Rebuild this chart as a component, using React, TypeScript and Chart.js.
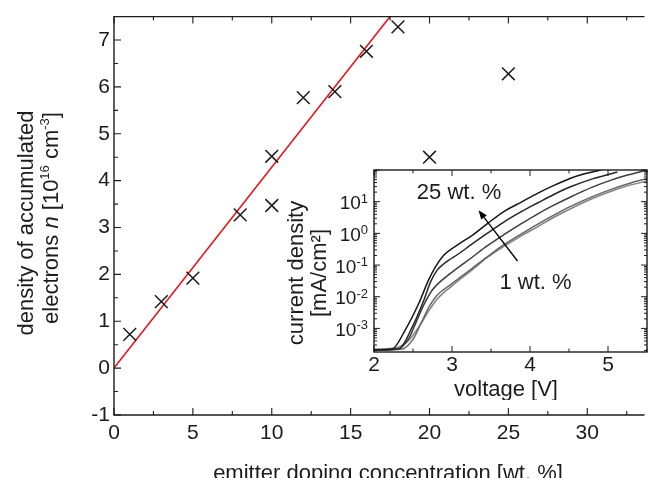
import React, { useEffect, useRef } from 'react';
import { Chart, registerables } from 'chart.js';
Chart.register(...registerables);

const FONT = "'Liberation Sans', Arial, Helvetica, sans-serif";
const INK = '#1c1c1c';

// ---------- main chart data ----------
const dopingConcentration = [1, 3, 5, 8, 10, 10, 12, 14, 16, 18, 20, 25];
const electronDensity = [0.72, 1.42, 1.92, 3.27, 4.52, 3.47, 5.77, 5.9, 6.76, 7.28, 4.5, 6.28];
const fitX = [0, 17.5];
const fitY = [0, 7.5];
const mainXMajor = [0, 5, 10, 15, 20, 25, 30];
const mainXMinor = [2.5, 7.5, 12.5, 17.5, 22.5, 27.5, 32.5];
const mainYMajor = [-1, 0, 1, 2, 3, 4, 5, 6, 7];
const mainYMinor = [-0.5, 0.5, 1.5, 2.5, 3.5, 4.5, 5.5, 6.5];

// ---------- inset data (current density in mA/cm², voltage in V) ----------
const voltage25 = [2.0, 2.23, 2.4, 2.575, 2.7, 2.79, 2.9, 3.1, 3.25, 3.45, 3.66, 3.9, 4.09, 4.3, 4.52, 4.7, 4.91];
const current25 = [2.1e-4, 2.2e-4, 8.9e-4, 6.2e-3, 3.4e-2, 8.9e-2, 0.21, 0.48, 0.83, 2.0, 4.8, 10, 18, 32, 55, 76, 100];
const voltageB = [2.0, 2.32, 2.49, 2.64, 2.725, 2.81, 2.9, 3.1, 3.25, 3.45, 3.66, 3.9, 4.09, 4.3, 4.52, 4.8, 5.12];
const currentB = [2.1e-4, 2.3e-4, 1.1e-3, 7.9e-3, 2.95e-2, 6.9e-2, 0.112, 0.24, 0.45, 1.0, 2.24, 5.0, 8.9, 16.6, 29.5, 52.5, 87];
const voltageC = [2.0, 2.3, 2.45, 2.55, 2.65, 2.75, 2.85, 2.95, 3.1, 3.25, 3.45, 3.66, 3.9, 4.09, 4.3, 4.52, 4.8, 5.04, 5.25, 5.5];
const currentC = [2.1e-4, 2.2e-4, 5.0e-4, 1.8e-3, 6.3e-3, 1.66e-2, 3.0e-2, 4.8e-2, 9.1e-2, 0.17, 0.4, 0.89, 2.1, 4.0, 7.6, 14.1, 28.8, 47.9, 69.2, 100];
const voltageD = [2.0, 2.35, 2.5, 2.6, 2.7, 2.8, 2.9, 3.0, 3.1, 3.25, 3.45, 3.66, 3.9, 4.09, 4.3, 4.52, 4.8, 5.04, 5.25, 5.5];
const currentD = [2.1e-4, 2.2e-4, 4.5e-4, 1.4e-3, 4.5e-3, 1.05e-2, 1.74e-2, 2.6e-2, 4.0e-2, 7.6e-2, 0.18, 0.43, 1.0, 1.9, 3.7, 7.1, 14.5, 24.5, 36.3, 53.7];
const voltage1 = [2.0, 2.3, 2.45, 2.6, 2.7, 2.8, 2.9, 3.0, 3.1, 3.25, 3.45, 3.66, 3.9, 4.09, 4.3, 4.52, 4.8, 5.04, 5.25, 5.5];
const current1 = [2.2e-4, 2.5e-4, 4.3e-4, 1.4e-3, 3.5e-3, 7.9e-3, 1.4e-2, 2.2e-2, 3.5e-2, 6.8e-2, 0.17, 0.38, 0.87, 1.58, 3.16, 6.0, 12.6, 21.4, 31.6, 44.7];
const curveColors = ['#151515', '#252525', '#3c3c3c', '#666666', '#828282'];

const insetXMajor = [2, 3, 4, 5];
const insetXMinor = [2.5, 3.5, 4.5, 5.5];
const insetYExponents = [1, 0, -1, -2, -3];
const insetYMin = 1.8e-4;
const insetYMax = 100;

const arrowFrom = { x: 3.84, y: 0.134 };
const arrowTo = { x: 3.34, y: 5.4 };
const labelHigh = { text: '25 wt. %', x: 3.09, y: 18.6 };
const labelLow = { text: '1 wt. %', x: 4.07, y: 0.027 };

function pts(xs: number[], ys: number[]) {
  return xs.map((x, i) => ({ x, y: ys[i] }));
}

type Run = { t: string; size: number; italic?: boolean; dy?: number };

function drawRotatedRuns(ctx: CanvasRenderingContext2D, runs: Run[], bx: number, cy: number) {
  ctx.save();
  ctx.translate(bx, cy);
  ctx.rotate(-Math.PI / 2);
  ctx.textBaseline = 'alphabetic';
  ctx.textAlign = 'left';
  let total = 0;
  const widths = runs.map((r) => {
    ctx.font = `${r.italic ? 'italic ' : ''}${r.size}px ${FONT}`;
    const w = ctx.measureText(r.t).width;
    total += w;
    return w;
  });
  let x = -total / 2;
  runs.forEach((r, i) => {
    ctx.font = `${r.italic ? 'italic ' : ''}${r.size}px ${FONT}`;
    ctx.fillText(r.t, x, r.dy || 0);
    x += widths[i];
  });
  ctx.restore();
}

const mainDecor = {
  id: 'mainDecor',
  afterDraw(chart: any) {
    const { ctx, chartArea: a, scales } = chart;
    const xs = scales.x;
    const ys = scales.y;
    ctx.save();
    ctx.strokeStyle = INK;
    ctx.lineWidth = 1.4;
    ctx.beginPath();
    ctx.moveTo(a.right + 2, a.top);
    ctx.lineTo(a.left, a.top);
    ctx.lineTo(a.left, a.bottom);
    ctx.lineTo(a.right + 2, a.bottom);
    ctx.stroke();
    ctx.lineWidth = 1.1;
    ctx.beginPath();
    const tick = (v: number, len: number) => {
      const px = xs.getPixelForValue(v);
      ctx.moveTo(px, a.bottom);
      ctx.lineTo(px, a.bottom - len);
      ctx.moveTo(px, a.top);
      ctx.lineTo(px, a.top + len);
    };
    mainXMajor.forEach((v) => tick(v, 7));
    mainXMinor.forEach((v) => tick(v, 4));
    mainYMajor.forEach((v) => {
      const py = ys.getPixelForValue(v);
      ctx.moveTo(a.left, py);
      ctx.lineTo(a.left + 7, py);
    });
    mainYMinor.forEach((v) => {
      const py = ys.getPixelForValue(v);
      ctx.moveTo(a.left, py);
      ctx.lineTo(a.left + 4, py);
    });
    ctx.stroke();

    ctx.fillStyle = INK;
    ctx.font = `22px ${FONT}`;
    ctx.textAlign = 'center';
    ctx.textBaseline = 'alphabetic';
    ctx.fillText('emitter doping concentration [wt. %]', 388, 479.5);
    drawRotatedRuns(ctx, [{ t: 'density of accumulated', size: 22 }], 33, 223);
    drawRotatedRuns(
      ctx,
      [
        { t: 'electrons ', size: 22 },
        { t: 'n', size: 22, italic: true },
        { t: ' [10', size: 22 },
        { t: '16', size: 13, dy: -9 },
        { t: ' cm', size: 22 },
        { t: '-3', size: 13, dy: -9 },
        { t: ']', size: 22 },
      ],
      58,
      218
    );
    ctx.restore();
  },
};

const insetDecor = {
  id: 'insetDecor',
  beforeDraw(chart: any) {
    const { ctx, chartArea: a } = chart;
    ctx.save();
    ctx.fillStyle = '#ffffff';
    ctx.fillRect(a.left, a.top, a.right - a.left, a.bottom - a.top);
    ctx.restore();
  },
  afterDraw(chart: any) {
    const { ctx, chartArea: a, scales } = chart;
    const xs = scales.x;
    const ys = scales.y;
    ctx.save();
    ctx.strokeStyle = INK;
    ctx.lineWidth = 1.4;
    ctx.strokeRect(a.left, a.top, a.right - a.left, a.bottom - a.top);
    ctx.lineWidth = 1;
    ctx.beginPath();
    const xt = (v: number, len: number) => {
      const px = xs.getPixelForValue(v);
      ctx.moveTo(px, a.bottom);
      ctx.lineTo(px, a.bottom - len);
      ctx.moveTo(px, a.top);
      ctx.lineTo(px, a.top + len);
    };
    insetXMajor.forEach((v) => xt(v, 6));
    insetXMinor.forEach((v) => xt(v, 3.5));
    const yt = (v: number, len: number) => {
      const py = ys.getPixelForValue(v);
      if (py < a.top - 0.5 || py > a.bottom + 0.5) return;
      ctx.moveTo(a.left, py);
      ctx.lineTo(a.left + len, py);
      ctx.moveTo(a.right, py);
      ctx.lineTo(a.right - len, py);
    };
    for (let d = -4; d <= 2; d++) {
      for (let m = 1; m <= 9; m++) {
        yt(m * Math.pow(10, d), m === 1 ? 6 : 3);
      }
    }
    ctx.stroke();

    ctx.fillStyle = INK;
    ctx.textBaseline = 'alphabetic';
    insetYExponents.forEach((e) => {
      const py = ys.getPixelForValue(Math.pow(10, e));
      const exp = String(e);
      ctx.font = `13px ${FONT}`;
      const we = ctx.measureText(exp).width;
      const right = a.left - 6;
      ctx.textAlign = 'left';
      ctx.fillText(exp, right - we, py + 1);
      ctx.font = `19px ${FONT}`;
      ctx.textAlign = 'right';
      ctx.fillText('10', right - we, py + 7.5);
    });

    const fx = xs.getPixelForValue(arrowFrom.x);
    const fy = ys.getPixelForValue(arrowFrom.y);
    const tx = xs.getPixelForValue(arrowTo.x);
    const ty = ys.getPixelForValue(arrowTo.y);
    const ang = Math.atan2(ty - fy, tx - fx);
    const hl = 9;
    const hw = 3.5;
    const bx = tx - hl * Math.cos(ang);
    const by = ty - hl * Math.sin(ang);
    ctx.strokeStyle = '#000';
    ctx.lineWidth = 1.3;
    ctx.beginPath();
    ctx.moveTo(fx, fy);
    ctx.lineTo(bx, by);
    ctx.stroke();
    ctx.fillStyle = '#000';
    ctx.beginPath();
    ctx.moveTo(tx, ty);
    ctx.lineTo(bx + hw * Math.sin(ang), by - hw * Math.cos(ang));
    ctx.lineTo(bx - hw * Math.sin(ang), by + hw * Math.cos(ang));
    ctx.closePath();
    ctx.fill();

    ctx.fillStyle = INK;
    ctx.font = `22px ${FONT}`;
    ctx.textAlign = 'center';
    ctx.textBaseline = 'middle';
    [labelHigh, labelLow].forEach((l) => {
      ctx.fillText(l.text, xs.getPixelForValue(l.x), ys.getPixelForValue(l.y));
    });

    ctx.textBaseline = 'alphabetic';
    ctx.font = `22px ${FONT}`;
    ctx.fillText('voltage [V]', 506 - 284, 396 - 160);
    drawRotatedRuns(ctx, [{ t: 'current density', size: 22 }], 303 - 284, 273 - 160);
    drawRotatedRuns(ctx, [{ t: '[mA/cm²]', size: 22 }], 326 - 284, 273 - 160);
    ctx.restore();
  },
};

export default function App() {
  const mainRef = useRef<HTMLCanvasElement>(null);
  const insetRef = useRef<HTMLCanvasElement>(null);

  useEffect(() => {
    const mainChart = new Chart(mainRef.current as HTMLCanvasElement, {
      type: 'scatter',
      data: {
        datasets: [
          {
            data: pts(fitX, fitY),
            showLine: true,
            borderColor: '#e5161d',
            borderWidth: 1.6,
            pointRadius: 0,
            order: 2,
          } as any,
          {
            data: pts(dopingConcentration, electronDensity),
            pointStyle: 'crossRot',
            pointRadius: 9,
            borderColor: '#1a1a1a',
            backgroundColor: '#1a1a1a',
            borderWidth: 1.5,
            order: 1,
          } as any,
        ],
      },
      options: {
        animation: false,
        responsive: false,
        layout: { padding: { top: 13, right: 0, left: 0, bottom: 0 } },
        plugins: { legend: { display: false }, tooltip: { enabled: false } },
        scales: {
          x: {
            type: 'linear',
            min: 0,
            max: 33.5,
            grid: { display: false, drawTicks: false },
            border: { display: false },
            ticks: {
              stepSize: 5,
              includeBounds: false,
              maxRotation: 0,
              autoSkip: false,
              padding: 6,
              color: INK,
              font: { family: FONT, size: 21 },
            },
            afterFit: (s: any) => {
              s.height = 63;
            },
          },
          y: {
            type: 'linear',
            min: -1,
            max: 7.5,
            grid: { display: false, drawTicks: false },
            border: { display: false },
            ticks: {
              stepSize: 1,
              includeBounds: false,
              autoSkip: false,
              padding: 4,
              color: INK,
              font: { family: FONT, size: 21 },
            },
            afterFit: (s: any) => {
              s.width = 114;
            },
          },
        },
      },
      plugins: [mainDecor],
    } as any);

    const curves = [
      [voltage25, current25],
      [voltageB, currentB],
      [voltageC, currentC],
      [voltageD, currentD],
      [voltage1, current1],
    ];
    const insetChart = new Chart(insetRef.current as HTMLCanvasElement, {
      type: 'scatter',
      data: {
        datasets: curves.map(([vx, jy], i) => ({
          data: pts(vx, jy),
          showLine: true,
          borderColor: curveColors[i],
          borderWidth: 1.5,
          pointRadius: 0,
          cubicInterpolationMode: 'monotone',
        })) as any,
      },
      options: {
        animation: false,
        responsive: false,
        layout: { padding: { top: 10, right: 6, left: 0, bottom: 0 } },
        plugins: { legend: { display: false }, tooltip: { enabled: false } },
        scales: {
          x: {
            type: 'linear',
            min: 2,
            max: 5.5,
            grid: { display: false, drawTicks: false },
            border: { display: false },
            ticks: {
              stepSize: 1,
              includeBounds: false,
              maxRotation: 0,
              autoSkip: false,
              padding: 1,
              color: INK,
              font: { family: FONT, size: 21 },
            },
            afterFit: (s: any) => {
              s.height = 48;
            },
          },
          y: {
            type: 'logarithmic',
            min: insetYMin,
            max: insetYMax,
            grid: { display: false, drawTicks: false },
            border: { display: false },
            ticks: { display: false },
            afterFit: (s: any) => {
              s.width = 90;
            },
          },
        },
      },
      plugins: [insetDecor],
    } as any);

    return () => {
      mainChart.destroy();
      insetChart.destroy();
    };
  }, []);

  return (
    <div style={{ position: 'absolute', left: 0, top: 0, width: 653, height: 478, overflow: 'hidden', background: '#fff' }}>
      <canvas
        ref={mainRef}
        width={653}
        height={478}
        style={{ position: 'absolute', left: 0, top: 0, width: 653, height: 478 }}
      />
      <canvas
        ref={insetRef}
        width={369}
        height={240}
        style={{ position: 'absolute', left: 284, top: 160, width: 369, height: 240 }}
      />
    </div>
  );
}
